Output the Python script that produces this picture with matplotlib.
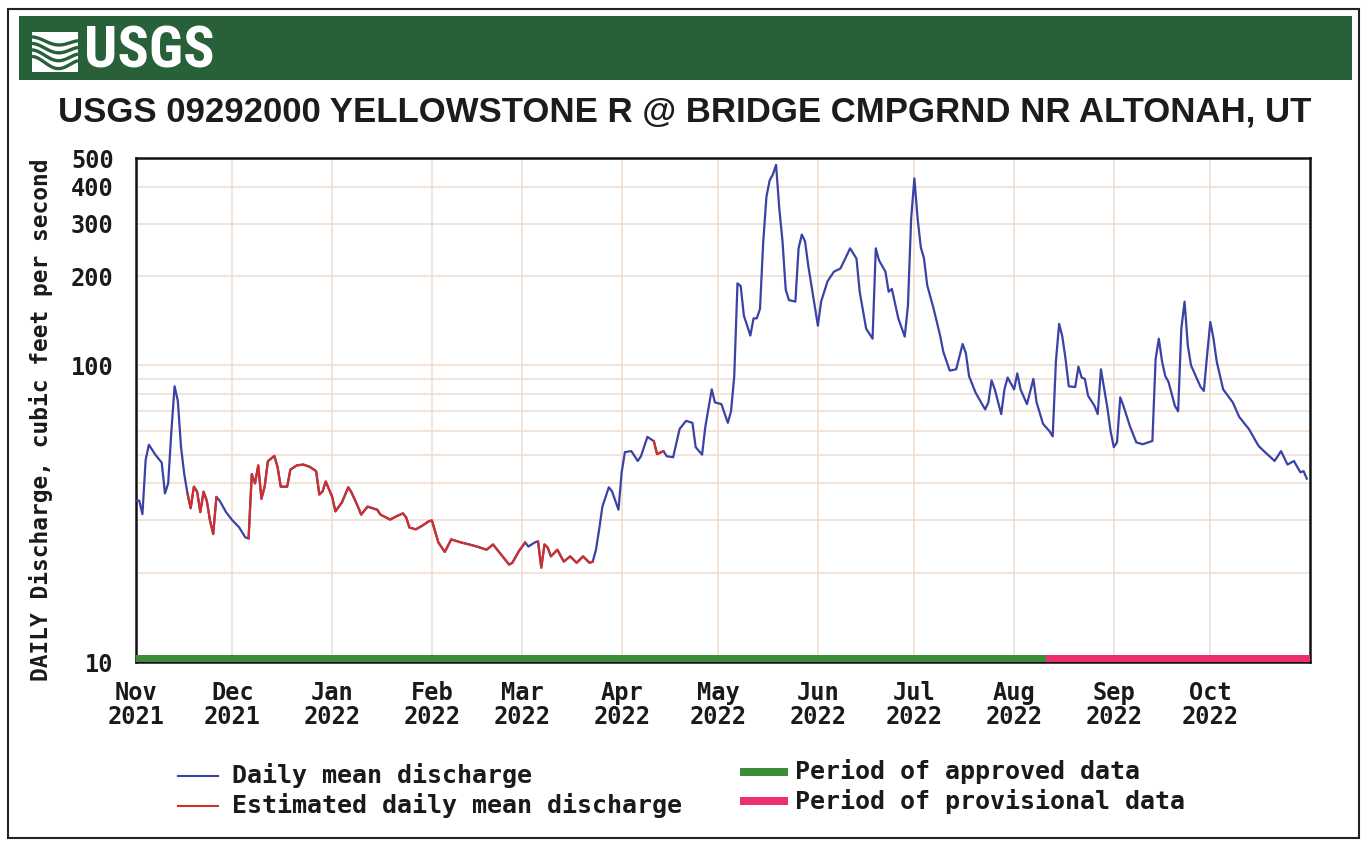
import numpy as np
import pandas as pd
import matplotlib
matplotlib.use("Agg")
import matplotlib.pyplot as plt
import matplotlib.dates as mdates
from matplotlib.ticker import FixedLocator, FixedFormatter, NullFormatter
from matplotlib.lines import Line2D
from matplotlib.patches import Rectangle
from matplotlib import font_manager

# daily mean discharge (cfs); day 0 = 2021-11-01
start = "2021-11-01"
end = "2022-11-01"

days_nov = [0, 1, 2, 3, 4, 6, 8, 9, 10, 11, 12, 13, 14, 15, 16, 17, 18, 19, 20, 21, 22, 23, 24, 25, 26, 28]
flow_nov = [35, 35, 31.5, 48, 54, 50, 47, 37, 40, 60, 85, 76, 53, 43, 37, 33, 39, 37.5, 32, 37.5, 35, 30, 27, 36, 35, 32]
days_dec = [30, 32, 34, 35, 36, 37, 38, 39, 40, 41, 43, 44, 45, 47, 48, 50, 52, 54, 56, 57, 58, 59]
flow_dec = [30, 28.5, 26.3, 26.1, 43, 40, 46, 35.5, 39, 47.5, 49.5, 45.5, 39, 39, 44.5, 46, 46.3, 45.5, 44, 36.7, 37.6, 40.6]
days_jan = [61, 62, 64, 66, 67, 69, 70, 72, 75, 76, 79, 81, 83, 84, 85, 87, 89, 91]
flow_jan = [36, 32.2, 34.5, 38.8, 37.3, 33.4, 31.4, 33.4, 32.6, 31.4, 30.2, 31, 31.7, 30.7, 28.4, 28, 28.8, 29.8]
days_feb = [92, 94, 96, 98, 101, 103, 106, 109, 111, 113, 116, 117, 119]
flow_feb = [30, 25.3, 23.5, 25.9, 25.3, 25, 24.5, 23.9, 24.9, 23.4, 21.3, 21.6, 23.6]
days_mar = [121, 122, 124, 125, 126, 127, 128, 129, 131, 133, 135, 137, 139, 141, 142, 143, 144, 145, 147, 148, 150]
flow_mar = [25.3, 24.5, 25.3, 25.5, 20.8, 24.9, 24.3, 22.7, 23.9, 21.8, 22.7, 21.6, 22.7, 21.6, 21.8, 23.9, 28, 33.4, 38.8, 37.6, 32.6]
days_apr = [151, 152, 154, 156, 157, 159, 161, 162, 164, 165, 167, 169, 171, 173, 174, 176, 177, 179, 180]
flow_apr = [43.6, 51, 51.4, 47.6, 49.4, 57.4, 55.5, 50.2, 51.4, 49.4, 49, 61, 65, 64, 53, 50, 62, 83, 75]
days_may = [182, 184, 185, 186, 187, 188, 189, 191, 192, 193, 194, 195, 196, 197, 198, 199, 200, 201, 202, 203, 205, 206, 207, 208, 209, 211]
flow_may = [74, 64, 70, 92, 189, 185, 147, 126, 144, 144, 155, 260, 370, 420, 440, 474, 338, 262, 180, 166, 164, 248, 276, 262, 217, 159]
days_jun = [212, 213, 215, 217, 219, 221, 222, 224, 225, 227, 229, 230, 231, 233, 234, 235, 237, 239, 240, 241]
flow_jun = [136, 164, 192, 207, 212, 235, 248, 229, 177, 133, 123, 248, 226, 207, 177, 181, 144, 125, 159, 313]
days_jul = [242, 243, 244, 245, 246, 248, 250, 251, 253, 255, 257, 258, 259, 261, 264, 265, 266, 267, 269, 270, 271]
flow_jul = [427, 313, 250, 229, 186, 155, 126, 111, 96, 97, 118, 110, 92, 81, 71, 75, 89, 83, 68.5, 83, 91]
days_aug = [273, 274, 275, 277, 279, 280, 282, 284, 285, 286, 287, 288, 289, 290, 292, 293, 294, 295, 296, 298, 299, 300, 302, 303]
flow_aug = [83, 94, 83, 74, 90, 75, 63.5, 60, 57.6, 103, 138, 125, 105, 85, 84.5, 99, 91, 90, 79, 73, 68.5, 97, 72, 60]
days_sep = [304, 305, 306, 307, 309, 311, 313, 316, 317, 318, 319, 320, 321, 323, 324, 325, 326, 327, 328, 331, 332, 333]
flow_sep = [53, 55, 78, 73, 62.4, 55, 54.2, 55.6, 105, 123, 103, 92, 88, 73, 70, 133, 164, 117, 100, 84.5, 82, 108]
days_oct = [334, 335, 336, 338, 341, 343, 346, 349, 351, 354, 356, 358, 360, 362, 363, 364]
flow_oct = [140, 123, 103, 83, 75, 67, 61, 53.5, 51, 47.6, 51.4, 46.3, 47.6, 43.6, 44, 41.5]

# periods where the daily value is estimated (drawn red)
est_start = ["2021-11-17", "2021-12-06", "2022-03-06", "2022-04-11"]
est_end = ["2021-11-26", "2022-03-02", "2022-03-23", "2022-04-14"]
# approved data up to this day, provisional afterwards
provisional_from = "2022-08-11"

title = "USGS 09292000 YELLOWSTONE R @ BRIDGE CMPGRND NR ALTONAH, UT"
ylabel = "DAILY Discharge, cubic feet per second"
ytick_vals = [10, 100, 200, 300, 400, 500]
ygrid_minor = [20, 30, 40, 50, 60, 70, 80, 90]

days = days_nov + days_dec + days_jan + days_feb + days_mar + days_apr + days_may + days_jun + days_jul + days_aug + days_sep + days_oct
flow = flow_nov + flow_dec + flow_jan + flow_feb + flow_mar + flow_apr + flow_may + flow_jun + flow_jul + flow_aug + flow_sep + flow_oct
assert len(days) == len(flow)

df = pd.DataFrame({"date": pd.to_datetime(start) + pd.to_timedelta(days, unit="D"), "cfs": flow})

BLUE = "#3a42a6"
RED = "#d0302c"
GREEN = "#3d8c3a"
PINK = "#ec2f72"
GRID = "#f0dccf"
BANNER = "#28603a"
MONO = "DejaVu Sans Mono"

W, H = 1362, 842
fig = plt.figure(figsize=(W / 100, H / 100), dpi=100)
fig.patch.set_facecolor("white")

def fx(px):
    return px / W

def fy(py):
    return 1 - py / H

# page frame and banner
fig.add_artist(Rectangle((fx(8), fy(838)), fx(1359) - fx(8), fy(9) - fy(838),
                         transform=fig.transFigure, fill=False, lw=1.5, ec="#222222", zorder=-2))
fig.add_artist(Rectangle((fx(19), fy(80)), fx(1352) - fx(19), fy(16) - fy(80),
                         transform=fig.transFigure, fc=BANNER, ec="none", zorder=-1))

# little wave mark of the logo
lax = fig.add_axes([fx(32), fy(72), fx(78) - fx(32), fy(32) - fy(72)])
lax.set_zorder(3)
lax.set_xlim(0, 1)
lax.set_ylim(0, 1)
lax.axis("off")
lax.add_patch(Rectangle((0, 0), 1, 1, fc="white", ec="none"))
t = np.linspace(0, 1, 60)
for k, off in enumerate([0.26, 0.44, 0.62, 0.80]):
    lax.plot(t, off + 0.13 * np.sin(2 * np.pi * (t * 0.9 + 0.25)) * (1 - 0.4 * k / 3) - 0.08 * t,
             color=BANNER, lw=2.4, solid_capstyle="butt")

def pick_font(names):
    for n in names:
        try:
            font_manager.findfont(n, fallback_to_default=False)
            return n
        except Exception:
            pass
    return "DejaVu Sans"

narrow = pick_font(["Liberation Sans Narrow", "Roboto Condensed", "DejaVu Sans"])
fig.text(fx(84), fy(52), "USGS", color="white", fontsize=42, fontweight="bold",
         family=narrow, va="center", ha="left")

fig.text(fx(685), fy(112), title, ha="center", va="center", fontsize=25,
         fontweight="bold", family="Liberation Sans", color="#1c1c1c")

# main plot
ax = fig.add_axes([fx(136), fy(662), fx(1310) - fx(136), fy(158) - fy(662)])
ax.set_yscale("log")
ax.set_ylim(10, 500)
ax.set_xlim(pd.to_datetime(start), pd.to_datetime(end))

ax.plot(df["date"], df["cfs"], color=BLUE, lw=1.6, zorder=3)
for s, e in zip(est_start, est_end):
    seg = df[(df["date"] >= s) & (df["date"] <= e)]
    ax.plot(seg["date"], seg["cfs"], color=RED, lw=1.6, zorder=4)

# approval status bar along the bottom
xt = ax.get_xaxis_transform()
x0 = mdates.date2num(pd.to_datetime(start))
x1 = mdates.date2num(pd.to_datetime(provisional_from))
x2 = mdates.date2num(pd.to_datetime(end))
ax.add_patch(Rectangle((x0, 0), x1 - x0, 0.014, transform=xt, fc=GREEN, ec="none", zorder=5))
ax.add_patch(Rectangle((x1, 0), x2 - x1, 0.014, transform=xt, fc=PINK, ec="none", zorder=5))

ax.yaxis.set_major_locator(FixedLocator(ytick_vals))
ax.yaxis.set_major_formatter(FixedFormatter([str(v) for v in ytick_vals]))
ax.yaxis.set_minor_locator(FixedLocator(ygrid_minor))
ax.yaxis.set_minor_formatter(NullFormatter())

months = pd.date_range(start, periods=12, freq="MS")
ax.set_xticks(months)
ax.set_xticklabels([m.strftime("%b\n%Y") for m in months])

ax.grid(True, which="both", color=GRID, lw=1.1, zorder=0)
ax.tick_params(which="both", length=0)
ax.tick_params(axis="x", pad=14)
ax.tick_params(axis="y", pad=16)
for lab in ax.get_xticklabels() + ax.get_yticklabels():
    lab.set_family(MONO)
    lab.set_fontweight("bold")
    lab.set_fontsize(17)
    lab.set_color("#1a1a1a")
for lab in ax.get_xticklabels():
    lab.set_linespacing(1.0)
for sp in ax.spines.values():
    sp.set_linewidth(1.8)
    sp.set_color("#111111")

fig.text(fx(41), fy(420), ylabel, rotation=90, ha="center", va="center",
         family=MONO, fontweight="bold", fontsize=16.5, color="#1a1a1a")

# legend
leg_font = dict(family=MONO, fontweight="bold", fontsize=18, color="#1a1a1a", va="center")
for y, col, txt in [(776, BLUE, "Daily mean discharge"), (806, RED, "Estimated daily mean discharge")]:
    fig.add_artist(Line2D([fx(178), fx(218)], [fy(y), fy(y)], color=col, lw=1.5,
                          transform=fig.transFigure))
    fig.text(fx(232), fy(y), txt, **leg_font)
for y, col, txt in [(772, GREEN, "Period of approved data"), (801, PINK, "Period of provisional data")]:
    fig.add_artist(Rectangle((fx(740), fy(y + 4)), fx(788) - fx(740), fy(y - 4) - fy(y + 4),
                             transform=fig.transFigure, fc=col, ec="none"))
    fig.text(fx(795), fy(y), txt, **leg_font)

fig.savefig("out.png", dpi=100, facecolor="white")
